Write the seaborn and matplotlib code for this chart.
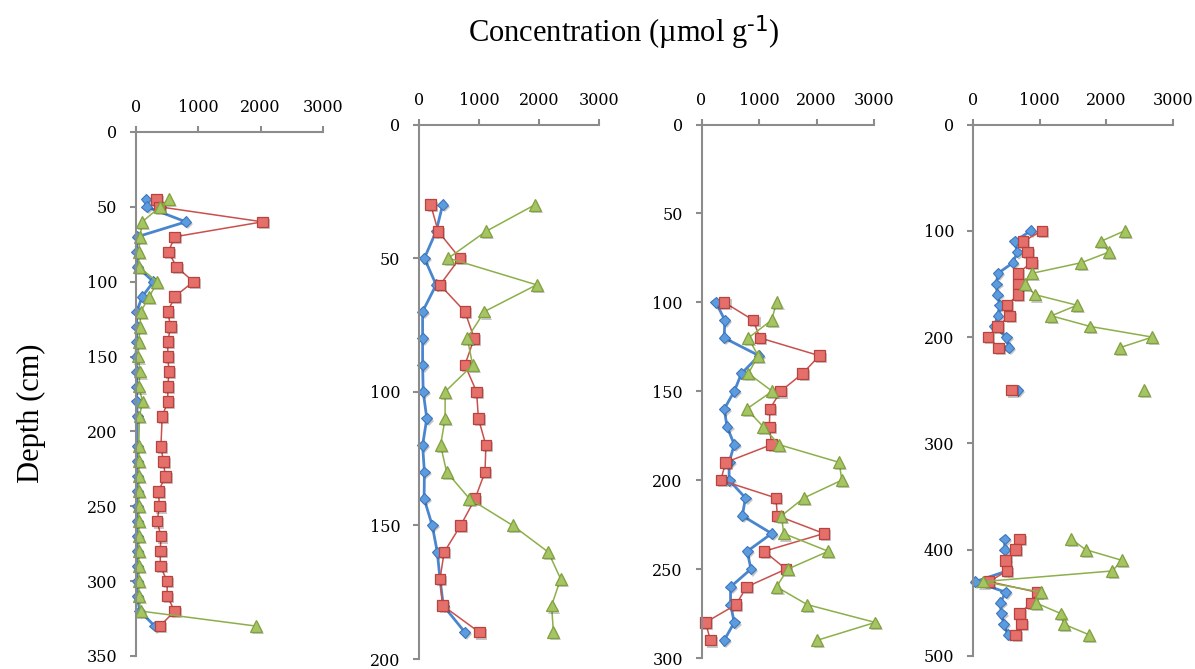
import numpy as np
import pandas as pd
import matplotlib
matplotlib.use("Agg")
import matplotlib.pyplot as plt
import matplotlib.patheffects as pe
import seaborn as sns

# ---------------- data ----------------
series_names = ["blue", "red", "green"]

depth_a = [45, 50, 60, 70, 80, 90, 100, 110, 120, 130, 140, 150, 160, 170, 180, 190,
           210, 220, 230, 240, 250, 260, 270, 280, 290, 300, 310, 320, 330]
blue_a = [160, 170, 800, 20, 10, 20, 280, 100, 10, 10, 10, 0, 10, 10, 10, 20,
          20, 20, 30, 20, 20, 20, 20, 20, 20, 20, 20, 60, 300]
red_a = [330, 380, 2030, 620, 520, 650, 920, 620, 510, 555, 510, 510, 530, 510, 510, 420,
         400, 440, 470, 360, 375, 340, 400, 390, 390, 500, 500, 620, 385]
green_a = [530, 385, 100, 65, 45, 45, 340, 215, 75, 65, 45, 35, 65, 45, 105, 55,
           45, 45, 45, 45, 45, 45, 45, 45, 45, 45, 45, 75, 1925]

depth_b = [30, 40, 50, 60, 70, 80, 90, 100, 110, 120, 130, 140, 150, 160, 170, 180, 190]
blue_b = [395, 285, 90, 285, 60, 60, 60, 70, 130, 60, 90, 85, 220, 305, 350, 405, 765]
red_b = [195, 320, 680, 350, 765, 920, 765, 960, 990, 1115, 1100, 935, 695, 420, 350, 395, 1005]
green_b = [1935, 1115, 490, 1960, 1090, 805, 895, 435, 435, 360, 460, 840, 1560, 2155, 2360, 2210, 2240]

depth_c = [100, 110, 120, 130, 140, 150, 160, 170, 180, 190, 200, 210, 220, 230, 240,
           250, 260, 270, 280, 290]
blue_c = [250, 405, 395, 1000, 695, 570, 395, 445, 570, 480, 480, 765, 710, 1220, 795,
          860, 505, 505, 570, 395]
red_c = [395, 900, 1015, 2050, 1760, 1375, 1190, 1180, 1220, 420, 335, 1295, 1320, 2130, 1090,
         1470, 785, 600, 70, 155]
green_c = [1305, 1220, 815, 985, 815, 1230, 785, 1075, 1345, 2395, 2440, 1780, 1390, 1430, 2205,
           1500, 1305, 1840, 3020, 2015]

nan = np.nan
depth_d = [100, 110, 120, 130, 140, 150, 160, 170, 180, 190, 200, 210, 230, 250, 320,
           390, 400, 410, 420, 430, 440, 450, 460, 470, 480]
blue_d = [865, 625, 665, 600, 375, 350, 365, 400, 375, 315, 500, 535, nan, 675, nan,
          475, 475, 490, 510, 35, 490, 410, 425, 460, 525]
red_d = [1035, 750, 815, 875, 675, 685, 675, 510, 550, 365, 225, 385, nan, 575, nan,
         700, 635, 485, 510, 240, 960, 875, 700, 725, 640]
green_d = [2275, 1915, 2040, 1625, 885, 785, 925, 1560, 1175, 1760, 2690, 2200, nan, 2560, nan,
           1475, 1690, 2235, 2090, 150, 1025, 940, 1315, 1360, 1740]

x_ticks = [0, 1000, 2000, 3000]
panels = [
    (depth_a, blue_a, red_a, green_a, 350, 50),
    (depth_b, blue_b, red_b, green_b, 200, 50),
    (depth_c, blue_c, red_c, green_c, 300, 50),
    (depth_d, blue_d, red_d, green_d, 500, 100),
]

title_text = "Concentration (\u00b5mol g$\\mathregular{^{\\text{-1}}}$)"
ylabel_text = "Depth (cm)"

# ---------------- styling ----------------
sns.set_theme(style="white")
plt.rcParams["font.family"] = ["DejaVu Serif"]
plt.rcParams["text.color"] = "black"

line_styles = {
    "blue": dict(color="#4A86CF", linewidth=2.0),
    "red": dict(color="#C9504C", linewidth=1.1),
    "green": dict(color="#8DAF4A", linewidth=1.1),
}
marker_styles = {
    "blue": dict(marker="D", markersize=5.5,
                 markerfacecolor="#5B9BE0", markeredgecolor="#3F76BA", markeredgewidth=0.8),
    "red": dict(marker="s", markersize=7.5,
                markerfacecolor="#E5706B", markeredgecolor="#B8423E", markeredgewidth=0.9),
    "green": dict(marker="^", markersize=8.5,
                  markerfacecolor="#A5C462", markeredgecolor="#82A040", markeredgewidth=0.9),
}
shadow = [pe.SimplePatchShadow(offset=(1.5, -1.5), shadow_rgbFace="black", alpha=0.22), pe.Normal()]

W, H = 1195, 669
fig = plt.figure(figsize=(W / 100, H / 100), dpi=100)

# axes boxes in pixels: left, right, top, bottom
boxes = [(136, 323, 132, 656), (419, 599, 124.5, 659), (701.5, 874, 124.5, 658), (973, 1173, 124.5, 656)]
axis_gray = "#8C8C8C"

for (depth, b, r, g, ymax, ystep), (l, rr, t, bt) in zip(panels, boxes):
    ax = fig.add_axes([l / W, 1 - bt / H, (rr - l) / W, (bt - t) / H])
    for name, vals in zip(series_names, [b, r, g]):
        df = pd.DataFrame({"depth": depth, "conc": vals})
        df["seg"] = df["conc"].isna().cumsum()
        df = df.dropna()
        # connecting lines
        sns.lineplot(data=df, x="conc", y="depth", units="seg", estimator=None,
                     sort=False, orient="y", ax=ax, legend=False, clip_on=False,
                     **line_styles[name])
        # markers with soft shadow
        sns.lineplot(data=df, x="conc", y="depth", units="seg", estimator=None,
                     sort=False, orient="y", ax=ax, legend=False, clip_on=False,
                     linestyle="", path_effects=shadow, **marker_styles[name])
    ax.set_xlim(0, 3000)
    ax.set_ylim(ymax, 0)
    ax.set_xticks(x_ticks)
    ax.set_yticks(np.arange(0, ymax + 1, ystep))
    ax.xaxis.tick_top()
    ax.set_xlabel("")
    ax.set_ylabel("")
    for s in ["right", "bottom"]:
        ax.spines[s].set_visible(False)
    for s in ["top", "left"]:
        ax.spines[s].set_color(axis_gray)
        ax.spines[s].set_linewidth(1.5)
    ax.tick_params(axis="both", direction="out", length=4.5, width=1.5, color=axis_gray,
                   labelsize=11.5, labelcolor="black")
    ax.tick_params(axis="x", pad=7, top=True, bottom=False)
    ax.tick_params(axis="y", pad=9, left=True)
    ax.set_facecolor("none")
    ax.grid(False)

fig.text(624 / W, 1 - 33 / H, title_text, ha="center", va="center",
         fontsize=22, family="Liberation Serif", color="black")
fig.text(31 / W, 1 - 413 / H, ylabel_text, ha="center", va="center", rotation=90,
         fontsize=22, family="Liberation Serif", color="black")

fig.savefig("out.png", dpi=100, facecolor="white")
